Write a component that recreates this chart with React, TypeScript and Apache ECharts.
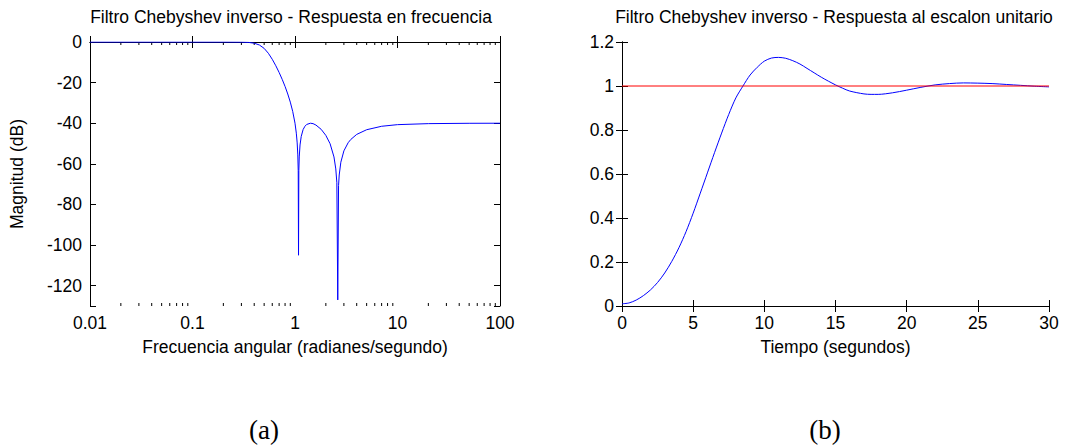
import React, { useEffect, useRef } from "react";
import * as echarts from "echarts";

// (a) frequency response: angular frequency (rad/s) vs magnitude (dB)
const freqRad = [
  0.01, 0.05, 0.1, 0.2, 0.3, 0.35, 0.4, 0.45, 0.5, 0.55, 0.6, 0.65, 0.7, 0.75, 0.8, 0.85, 0.9, 0.95, 1.0,
  1.03, 1.05, 1.065, 1.075, 1.0824, 1.09, 1.1, 1.12, 1.15, 1.2, 1.25, 1.3, 1.414, 1.5, 1.6, 1.8, 2.0, 2.2,
  2.4, 2.5, 2.56, 2.6131, 2.66, 2.7, 2.8, 3.0, 3.3, 3.5, 4, 5, 7, 10, 20, 50, 100,
];
const magDb = [
  0, 0, 0, -0.002, -0.05, -0.19, -0.58, -1.49, -3.14, -5.57, -8.51, -11.7, -15.0, -18.4, -21.9, -25.6, -29.6, -34.2, -40.0,
  -44.9, -49.7, -55.6, -63.4, -105, -63.4, -56.6, -50.7, -46.5, -43.1, -41.5, -40.6, -40.0, -40.2, -40.9, -43.0, -46.0, -50.1,
  -56.6, -62.5, -69.3, -127, -70.7, -65.5, -59.2, -53.6, -49.6, -48.0, -45.5, -43.2, -41.5, -40.7, -40.2, -40.03, -40.0,
];
const minorFreqTicks = [
  0.02, 0.03, 0.04, 0.05, 0.06, 0.07, 0.08, 0.09,
  0.2, 0.3, 0.4, 0.5, 0.6, 0.7, 0.8, 0.9,
  2, 3, 4, 5, 6, 7, 8, 9,
  20, 30, 40, 50, 60, 70, 80, 90,
];

// (b) unit step response: time (s) vs output
const timeSec = [
  0, 0.5, 1, 1.5, 2, 2.5, 3, 3.5, 4, 4.5, 5, 5.5, 6, 6.5, 7, 7.5, 8, 8.5, 9, 9.5, 10, 10.5, 11, 11.5, 12,
  12.5, 13, 13.5, 14, 14.5, 15, 15.5, 16, 17, 17.5, 18, 19, 20, 21, 22, 23, 24, 25, 26, 27, 28, 29, 30,
];
const stepResp = [
  0.01, 0.014, 0.027, 0.047, 0.073, 0.107, 0.15, 0.203, 0.265, 0.338, 0.422, 0.513, 0.605, 0.697, 0.786, 0.871,
  0.946, 1.0, 1.05, 1.085, 1.113, 1.127, 1.13, 1.126, 1.115, 1.1, 1.08, 1.06, 1.04, 1.022, 1.005, 0.99, 0.977,
  0.964, 0.962, 0.962, 0.969, 0.981, 0.994, 1.005, 1.011, 1.014, 1.013, 1.011, 1.007, 1.003, 0.999, 0.996,
];
const refTime = [0, 30];
const refLevel = [1, 1];

const FONT = "Liberation Sans, Arial, sans-serif";
const SERIF = "Liberation Serif, Times New Roman, serif";
const FS = 17.5;

export default function App() {
  const ref = useRef<HTMLDivElement>(null);

  useEffect(() => {
    const chart = echarts.init(ref.current!, null, { renderer: "svg" });

    const axisLine = { show: true, lineStyle: { color: "#000", width: 1 } };
    const tick = { show: true, inside: true, length: 6, lineStyle: { color: "#000", width: 1 } };
    const label = { color: "#000", fontSize: FS, fontFamily: FONT, margin: 8 };
    const name = { color: "#000", fontSize: FS, fontFamily: FONT };

    const option: any = {
      animation: false,
      backgroundColor: "#fff",
      textStyle: { fontFamily: FONT },
      grid: [
        { left: 90, top: 42, width: 410, height: 264, containLabel: false },
        { left: 622, top: 42, width: 427, height: 264, containLabel: false },
      ],
      xAxis: [
        {
          type: "log", logBase: 10, gridIndex: 0, position: "bottom", min: 0.01, max: 100,
          axisLine, axisTick: tick, splitLine: { show: false },
          axisLabel: { ...label, formatter: (v: number) => String(+v.toPrecision(6)) },
          name: "Frecuencia angular (radianes/segundo)", nameLocation: "middle", nameGap: 32, nameTextStyle: name,
        },
        {
          type: "log", logBase: 10, gridIndex: 0, position: "top", min: 0.01, max: 100,
          axisLine, axisTick: tick, splitLine: { show: false }, axisLabel: { show: false },
        },
        {
          type: "value", gridIndex: 1, position: "bottom", min: 0, max: 30, interval: 5,
          axisLine, axisTick: tick, splitLine: { show: false }, axisLabel: label,
          name: "Tiempo (segundos)", nameLocation: "middle", nameGap: 32, nameTextStyle: name,
        },
        {
          type: "value", gridIndex: 1, position: "top", min: 0, max: 30, interval: 5,
          axisLine, axisTick: tick, splitLine: { show: false }, axisLabel: { show: false },
        },
      ],
      yAxis: [
        {
          type: "value", gridIndex: 0, position: "left", min: -130, max: 0, splitNumber: 7,
          axisLine, axisTick: tick, splitLine: { show: false },
          axisLabel: {
            ...label,
            formatter: (v: number) => (Math.round(v) % 20 === 0 ? String(Math.round(v)) : ""),
          },
          name: "Magnitud (dB)", nameLocation: "middle", nameGap: 64, nameTextStyle: name,
        },
        {
          type: "value", gridIndex: 0, position: "right", min: -130, max: 0, splitNumber: 7,
          axisLine, axisTick: tick, splitLine: { show: false }, axisLabel: { show: false },
        },
        {
          type: "value", gridIndex: 1, position: "left", min: 0, max: 1.2, interval: 0.2,
          axisLine, axisTick: tick, splitLine: { show: false },
          axisLabel: { ...label, formatter: (v: number) => String(+v.toFixed(1)) },
        },
        {
          type: "value", gridIndex: 1, position: "right", min: 0, max: 1.2, interval: 0.2,
          axisLine, axisTick: tick, splitLine: { show: false }, axisLabel: { show: false },
        },
      ],
      graphic: [
        {
          type: "text", x: 291, y: 17,
          style: { text: "Filtro Chebyshev inverso - Respuesta en frecuencia", fontSize: FS, fontFamily: FONT, fill: "#000", align: "center", verticalAlign: "middle" },
        },
        {
          type: "text", x: 834, y: 17,
          style: { text: "Filtro Chebyshev inverso - Respuesta al escalon unitario", fontSize: FS, fontFamily: FONT, fill: "#000", align: "center", verticalAlign: "middle" },
        },
        {
          type: "text", x: 264, y: 430,
          style: { text: "(a)", fontSize: 27, fontFamily: SERIF, fill: "#000", align: "center", verticalAlign: "middle" },
        },
        {
          type: "text", x: 825, y: 430,
          style: { text: "(b)", fontSize: 27, fontFamily: SERIF, fill: "#000", align: "center", verticalAlign: "middle" },
        },
      ],
      series: [
        {
          type: "line", xAxisIndex: 0, yAxisIndex: 0, showSymbol: false, symbol: "none",
          data: freqRad.map((f, i) => [f, magDb[i]]),
          lineStyle: { color: "#0000ff", width: 1 }, silent: true,
        },
        {
          type: "custom", xAxisIndex: 0, yAxisIndex: 0, silent: true, clip: false,
          data: minorFreqTicks.map((f) => [f, -130]),
          renderItem: (params: any, api: any) => {
            const v = api.value(0);
            const b = api.coord([v, -130]);
            const t = api.coord([v, 0]);
            const st = { stroke: "#000", lineWidth: 1 };
            return {
              type: "group",
              children: [
                { type: "line", shape: { x1: b[0], y1: b[1], x2: b[0], y2: b[1] - 3 }, style: st },
                { type: "line", shape: { x1: t[0], y1: t[1], x2: t[0], y2: t[1] + 3 }, style: st },
              ],
            };
          },
        },
        {
          type: "line", xAxisIndex: 2, yAxisIndex: 2, showSymbol: false, symbol: "none", smooth: 0.3,
          data: timeSec.map((t, i) => [t, stepResp[i]]),
          lineStyle: { color: "#0000ff", width: 1 }, silent: true,
        },
        {
          type: "line", xAxisIndex: 2, yAxisIndex: 2, showSymbol: false, symbol: "none",
          data: refTime.map((t, i) => [t, refLevel[i]]),
          lineStyle: { color: "#ff0000", width: 1 }, silent: true,
        },
      ],
    };

    chart.setOption(option);
    return () => chart.dispose();
  }, []);

  return (
    <div
      ref={ref}
      style={{ position: "absolute", left: 0, top: 0, width: 1074, height: 445, background: "#fff" }}
    />
  );
}
